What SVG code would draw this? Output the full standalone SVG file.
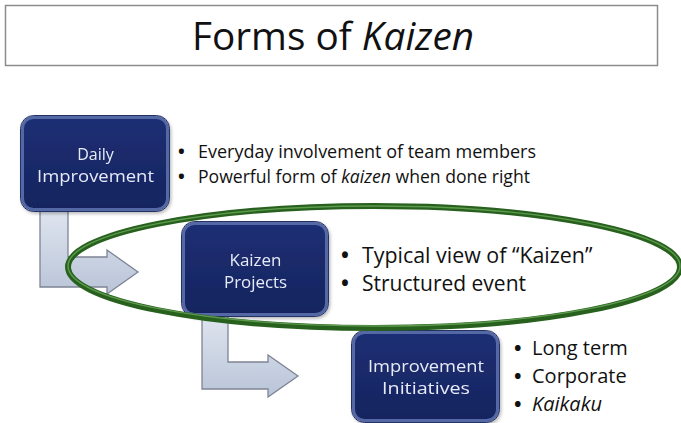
<svg xmlns="http://www.w3.org/2000/svg" width="681" height="423" viewBox="0 0 681 423">
  <style>
    .title { font-family: "Open Sans", "Liberation Sans", sans-serif; font-size: 38px; fill: #111; }
    .box { fill: url(#navy); stroke: #5468a6; stroke-width: 3; }
    .box-edge { fill: none; stroke: #243063; stroke-width: 1; }
    .label { font-family: "Open Sans", "Liberation Sans", sans-serif; fill: #e6ebf7; text-anchor: middle; font-size: 16px; }
    .bullet { font-family: "Open Sans", "Liberation Sans", sans-serif; fill: #111; }
    .dot { font-weight: bold; }
    .flow { fill: url(#steel); stroke: #7d8494; stroke-width: 1.3; stroke-linejoin: miter; }
    .ring { fill: none; stroke: #27611d; stroke-width: 6; }
    .ring-hi { fill: none; stroke: #5d9a4e; stroke-width: 1.4; }
    .it { font-style: italic; }
  </style>
  <defs>
    <linearGradient id="navy" x1="0" y1="0" x2="0" y2="1">
      <stop offset="0" stop-color="#1e2f74"/>
      <stop offset="1" stop-color="#15245f"/>
    </linearGradient>
    <linearGradient id="steel" x1="0" y1="0" x2="0" y2="1">
      <stop offset="0" stop-color="#dfe5ef"/>
      <stop offset="1" stop-color="#b9c4d8"/>
    </linearGradient>
    <filter id="shade" x="-10%" y="-10%" width="130%" height="130%">
      <feDropShadow dx="1.5" dy="2" stdDeviation="1.5" flood-color="#000" flood-opacity="0.25"/>
    </filter>
  </defs>

  <!-- heading -->
  <g id="title">
    <rect x="5.5" y="5.5" width="652" height="60" fill="#fff" stroke="#8c8c8c" stroke-width="1.5"/>
    <text class="title" x="192" y="50" textLength="282" lengthAdjust="spacingAndGlyphs">Forms of <tspan class="it">Kaizen</tspan></text>
  </g>

  <!-- elbow arrows between levels -->
  <g id="connectors">
    <path class="flow" d="M40,210 L68,210 L68,257 L107,257 L107,250 L138,272 L107,294 L107,287 L40,287 Z"/>
    <path class="flow" d="M202,315 L228,315 L228,362 L268,362 L268,355 L298,376 L268,397 L268,389 L202,389 Z"/>
  </g>

  <g id="daily-improvement" filter="url(#shade)">
    <rect class="box" x="22.5" y="117.5" width="145" height="92" rx="11"/>
    <rect class="box-edge" x="20.5" y="115.5" width="149" height="96" rx="13"/>
    <text class="label" x="95.5" y="160">Daily</text>
    <text class="label" x="95.5" y="182" textLength="117" lengthAdjust="spacingAndGlyphs">Improvement</text>
  </g>

  <!-- bullet lists: the bullet and its line share one text element -->
  <g id="daily-notes">
    <text class="bullet" y="158" font-size="18"><tspan class="dot" x="178">•</tspan><tspan x="198">Everyday involvement of team members</tspan></text>
    <text class="bullet" y="183" font-size="18"><tspan class="dot" x="178">•</tspan><tspan x="198" font-size="17.6">Powerful form of </tspan><tspan class="it" font-size="17.6">kaizen</tspan><tspan font-size="17.6"> when done right</tspan></text>
  </g>

  <g id="kaizen-projects" filter="url(#shade)">
    <rect class="box" x="183.5" y="223.5" width="143" height="91" rx="11"/>
    <rect class="box-edge" x="181.5" y="221.5" width="147" height="95" rx="13"/>
    <text class="label" x="255.5" y="266" textLength="52" lengthAdjust="spacingAndGlyphs">Kaizen</text>
    <text class="label" x="255.5" y="288" textLength="63" lengthAdjust="spacingAndGlyphs">Projects</text>
  </g>

  <g id="kaizen-notes">
    <text class="bullet" y="263" font-size="21"><tspan class="dot" x="341">•</tspan><tspan x="362" font-size="21.4">Typical view of “Kaizen”</tspan></text>
    <text class="bullet" y="291" font-size="21"><tspan class="dot" x="341">•</tspan><tspan x="362">Structured event</tspan></text>
  </g>

  <g id="improvement-initiatives" filter="url(#shade)">
    <rect class="box" x="353.5" y="332.5" width="144" height="88" rx="11"/>
    <rect class="box-edge" x="351.5" y="330.5" width="148" height="92" rx="13"/>
    <text class="label" x="426" y="372" textLength="116" lengthAdjust="spacingAndGlyphs">Improvement</text>
    <text class="label" x="426" y="394" textLength="88" lengthAdjust="spacingAndGlyphs">Initiatives</text>
  </g>

  <g id="initiative-notes">
    <text class="bullet" y="355" font-size="20"><tspan class="dot" x="514">•</tspan><tspan x="532">Long term</tspan></text>
    <text class="bullet" y="383" font-size="20"><tspan class="dot" x="514">•</tspan><tspan x="532">Corporate</tspan></text>
    <text class="bullet" y="411" font-size="20"><tspan class="dot" x="514">•</tspan><tspan class="it" x="532">Kaikaku</tspan></text>
  </g>

  <!-- green ring around the Kaizen Projects level -->
  <g id="focus-ring">
    <ellipse class="ring" cx="374" cy="267" rx="306" ry="61"/>
    <ellipse class="ring-hi" cx="374" cy="266" rx="306" ry="60"/>
  </g>
</svg>
